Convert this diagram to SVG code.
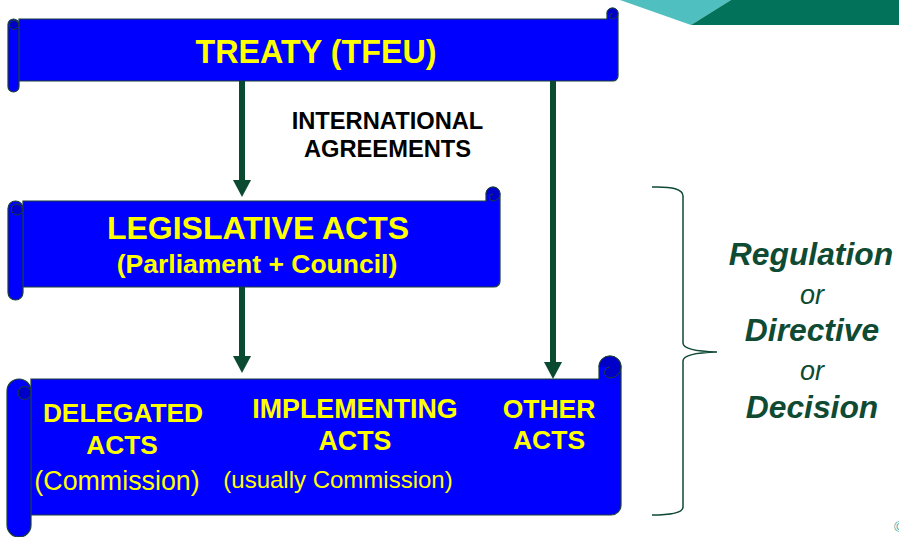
<svg xmlns="http://www.w3.org/2000/svg" width="899" height="537" viewBox="0 0 899 537">
<defs>
<style>
.body{fill:#0000FF;stroke:#1B3F35;stroke-width:1.2}
.curl{fill:#0000C8;stroke:#1B3F35;stroke-width:1}
.yb{font-family:"Liberation Sans",Arial,sans-serif;font-weight:bold;fill:#FFFF00;text-anchor:middle}
.yr{font-family:"Liberation Sans",Arial,sans-serif;fill:#FFFF00;text-anchor:middle}
.kb{font-family:"Liberation Sans",Arial,sans-serif;font-weight:bold;fill:#000000;text-anchor:middle;font-size:23.7px}
.gbi{font-family:"Liberation Sans",Arial,sans-serif;font-weight:bold;font-style:italic;fill:#0F4A33;text-anchor:middle;font-size:31.8px}
.gi{font-family:"Liberation Sans",Arial,sans-serif;font-style:italic;fill:#0F4A33;text-anchor:middle;font-size:27px}
.conn{stroke:#0A4A30;stroke-width:6;fill:none}
</style>
<marker id="ah" markerUnits="userSpaceOnUse" markerWidth="17" markerHeight="18" refX="0" refY="9" orient="auto" overflow="visible">
<path d="M0,0 L17,9 L0,18 Z" fill="#0A4A30"/>
</marker>
</defs>
<rect width="899" height="537" fill="#FFFFFF"/>
<g id="decor">
<polygon points="620,0 691,25 731,0" fill="#50BFBF"/>
<polygon points="691,25 899,25 899,0 731,0" fill="#02735A"/>
<text x="894" y="532" font-family="Liberation Sans,sans-serif" font-size="14" fill="#3AA8A8">©</text>
</g>
<g id="treaty">
<path class="body" d="M19,19 H607 V13.5 A5.5,5.5 0 0 1 618,13.5 V76 A5,5 0 0 1 613,81 H19 Z"/>
<path class="curl" d="M607,13.5 A5.5,5.5 0 0 1 618,13.5 A5.5,5.5 0 0 1 612.5,19 A2.7,2.7 0 0 1 612.5,13.5"/>
<rect class="body" x="8" y="19" width="11" height="73" rx="5.5"/>
<circle class="curl" cx="14" cy="25" r="4.5"/>
<text class="yb" x="316" y="63" font-size="32.3">TREATY (TFEU)</text>
</g>
<g id="intl">
<text class="kb" x="387.5" y="129">INTERNATIONAL</text>
<text class="kb" x="387.5" y="157">AGREEMENTS</text>
</g>
<g id="legislative">
<path class="body" d="M23,201 H486 V194 A7,7 0 0 1 500,194 V281 A6,6 0 0 1 494,287 H23 Z"/>
<path class="curl" d="M486,194 A7,7 0 0 1 500,194 A7,7 0 0 1 493,201 A3.5,3.5 0 0 1 493,194"/>
<rect class="body" x="8" y="201" width="15" height="99" rx="7.5"/>
<circle class="curl" cx="17" cy="209.5" r="5.5"/>
<text class="yb" x="258" y="239" font-size="32">LEGISLATIVE ACTS</text>
<text class="yb" x="257" y="273" font-size="26.5">(Parliament + Council)</text>
</g>
<g id="acts">
<path class="body" d="M31,379 H599 V367 A11,11 0 0 1 621,367 V505 A10,10 0 0 1 611,515 H31 Z"/>
<path class="curl" d="M599,367 A11,11 0 0 1 621,367 A11,11 0 0 1 610,378 A5.5,5.5 0 0 1 610,367"/>
<rect class="body" x="7" y="379" width="24" height="158" rx="12"/>
<circle class="curl" cx="24.5" cy="393" r="6.5"/>
<text class="yb" x="123" y="422" font-size="26.3">DELEGATED</text>
<text class="yb" x="122" y="454" font-size="26.3">ACTS</text>
<text class="yr" x="117" y="490" font-size="26.8">(Commission)</text>
<text class="yb" x="355" y="418" font-size="26.8">IMPLEMENTING</text>
<text class="yb" x="355" y="450" font-size="26.8">ACTS</text>
<text class="yr" x="338" y="488" font-size="24">(usually Commission)</text>
<text class="yb" x="549" y="418" font-size="26.5">OTHER</text>
<text class="yb" x="549" y="449" font-size="26.5">ACTS</text>
</g>
<g id="connectors">
<line class="conn" x1="242" y1="81" x2="242" y2="180" marker-end="url(#ah)"/>
<line class="conn" x1="242" y1="287" x2="242" y2="356" marker-end="url(#ah)"/>
<line class="conn" x1="553" y1="81" x2="553" y2="362" marker-end="url(#ah)"/>
</g>
<g id="brace">
<path d="M652,187 Q683,186 683,196 V343 Q683,351 717,352 Q683,353 683,361 V507 Q683,515 652,515" fill="none" stroke="#0F4A33" stroke-width="1.5"/>
</g>
<g id="types">
<text class="gbi" x="811" y="265">Regulation</text>
<text class="gi" x="812" y="304">or</text>
<text class="gbi" x="812" y="341">Directive</text>
<text class="gi" x="812" y="380">or</text>
<text class="gbi" x="812" y="418">Decision</text>
</g>
</svg>
